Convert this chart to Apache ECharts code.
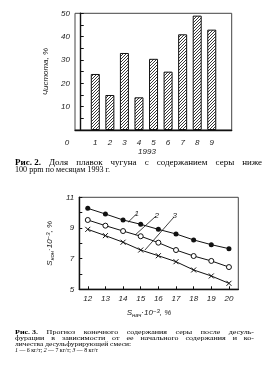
<!DOCTYPE html>
<html><head><meta charset="utf-8">
<script src="https://cdn.jsdelivr.net/npm/echarts@6/dist/echarts.min.js"></script>
<style>html,body{margin:0;padding:0;background:#fff}#c{width:273px;height:370px}</style>
</head><body><div id="c"></div>
<script>
// ---- Fig. 2 data ----
const months = [1, 2, 3, 4, 5, 6, 7, 8, 9];
const purity = [24, 15, 33, 14, 30.5, 25, 41, 49, 43];
const y1Ticks = [10, 20, 30, 40, 50];
// ---- Fig. 3 data ----
const sInit = [12, 13, 14, 15, 16, 17, 18, 19, 20];
const sFin1 = [10.28, 9.91, 9.52, 9.24, 8.91, 8.61, 8.22, 7.91, 7.65]; // 6 kg/t
const sFin2 = [9.52, 9.15, 8.80, 8.46, 8.04, 7.56, 7.17, 6.85, 6.45];  // 7 kg/t
const sFin3 = [8.91, 8.50, 8.07, 7.56, 7.19, 6.80, 6.26, 5.87, 5.39];  // 8 kg/t
const y2Labels = [5, 7, 9, 11];
const leader1 = [[14.28, 9.37], [14.73, 9.88]];
const leader2 = [[14.68, 8.54], [15.87, 9.78]];
const leader3 = [[15.24, 7.56], [16.89, 9.72]];

const cap2 = ['Рис. 2.', 'Доля плавок чугуна с содержанием серы ниже', '100 ppm по месяцам 1993 г.'];
const cap3 = ['Рис. 3.', 'Прогноз конечного содержания серы после десуль-',
  'фурации в зависимости от ее начального содержания и ко-',
  'личества десульфурирующей смеси:'];

const chart = echarts.init(document.getElementById('c'), null, {renderer: 'canvas'});

// hatch pattern
const pc = document.createElement('canvas');
pc.width = 3; pc.height = 3;
const p = pc.getContext('2d');
p.fillStyle = '#fff'; p.fillRect(0, 0, 3, 3);
p.strokeStyle = '#222'; p.lineWidth = 0.9;
p.beginPath();
p.moveTo(0, 3); p.lineTo(3, 0);
p.moveTo(-1, 1); p.lineTo(1, -1);
p.moveTo(2, 4); p.lineTo(4, 2);
p.stroke();

const mc = document.createElement('canvas').getContext('2d');
const SERIF = '"Liberation Serif", serif';
const SY = 0.8;
function fontStr(b, size) { return (b ? 'bold ' : '') + size + 'px ' + SERIF; }
function measure(t, b, size) { mc.font = fontStr(b, size); return mc.measureText(t).width; }
function justify(words, x0, x1, y, size) {
  const ws = words.map(o => measure(o.t, o.b, size));
  const tot = ws.reduce((a, b) => a + b, 0);
  const gap = (x1 - x0 - tot) / (words.length - 1);
  let x = x0;
  return words.map((o, i) => {
    const el = {type: 'text', x: x, y: y, scaleY: SY, silent: true,
      style: {text: o.t, font: fontStr(o.b, size), fill: '#000', textAlign: 'left', textVerticalAlign: 'middle'}};
    x += ws[i] + gap;
    return el;
  });
}
function fit(text, plainText, x0, x1, y, size, rich) {
  const w = measure(plainText, false, size);
  const st = {text: text, font: fontStr(false, size), fill: '#000', textAlign: 'left', textVerticalAlign: 'middle'};
  if (rich) st.rich = rich;
  return {type: 'text', x: x0, y: y, scaleY: SY, scaleX: (x1 - x0) / w, silent: true, style: st};
}
function wordsOf(s) { return s.split(' ').map(t => ({t: t, b: false})); }

const graphics = [];
// Fig 2 caption
graphics.push(...justify([{t: cap2[0], b: true}].concat(wordsOf(cap2[1])), 15, 262, 163.5, 9));
graphics.push(fit(cap2[2], cap2[2], 15, 110, 170.5, 9));
// Fig 3 caption
graphics.push(...justify([{t: cap3[0], b: true}].concat(wordsOf(cap3[1])), 15, 254, 332.3, 8));
graphics.push(...justify(wordsOf(cap3[2]), 15, 254, 338.5, 8));
graphics.push(fit(cap3[3], cap3[3], 15, 131, 344.5, 8));
const l4 = '1 — 6 кг/т; 2 — 7 кг/т; 3 — 8 кг/т';
graphics.push(fit('{i|1} — 6 кг/т; {i|2} — 7 кг/т; {i|3} — 8 кг/т', l4, 15, 98, 350.5, 8,
  {i: {fontStyle: 'italic', fontSize: 8, fontFamily: 'Liberation Serif'}}));
// axis extras
const LBL = {fontFamily: 'Liberation Sans', fontStyle: 'italic', fontSize: 8, color: '#222'};
graphics.push({type: 'text', x: 67, y: 143, silent: true,
  style: {text: '0', font: 'italic 8px "Liberation Sans"', fill: '#222', textAlign: 'center', textVerticalAlign: 'middle'}});
graphics.push({type: 'text', x: 147, y: 151.5, silent: true,
  style: {text: '1993', font: 'italic 8px "Liberation Sans"', fill: '#222', textAlign: 'center', textVerticalAlign: 'middle'}});
graphics.push({type: 'text', x: 149, y: 313, silent: true,
  style: {text: 'S{s|нач}·10{u|−3}, %', font: 'italic 8px "Liberation Sans"', fill: '#222', textAlign: 'center', textVerticalAlign: 'middle',
    rich: {s: {fontSize: 6, fontStyle: 'italic', fontFamily: 'Liberation Sans', verticalAlign: 'bottom', padding: [3, 0, 0, 0]},
           u: {fontSize: 6, fontStyle: 'italic', fontFamily: 'Liberation Sans', verticalAlign: 'top', padding: [0, 0, 4, 0]}}}});

const axisLineBold = {show: true, lineStyle: {color: '#111', width: 1.4}};

function leader(pts, txt) {
  return {
    silent: true, symbol: ['none', 'none'], animation: false,
    lineStyle: {color: '#111', width: 0.8, type: 'solid'},
    label: {show: true, position: 'end', formatter: txt, distance: 1, ...LBL},
    data: [[{coord: pts[0]}, {coord: pts[1]}]]
  };
}

const option = {
  animation: false,
  backgroundColor: '#fff',
  grid: [
    {left: 75, top: 13.3, width: 156.7, height: 116.7, show: true, borderColor: '#444', borderWidth: 1, backgroundColor: 'transparent'},
    {left: 79.3, top: 197.3, width: 159, height: 92, show: true, borderColor: '#444', borderWidth: 1, backgroundColor: 'transparent'}
  ],
  xAxis: [
    {type: 'value', gridIndex: 0, min: -0.395, max: 10.37, splitLine: {show: false},
      axisLine: axisLineBold, axisTick: {show: false},
      axisLabel: {show: true, customValues: months, margin: 9, ...LBL}},
    {type: 'value', gridIndex: 1, min: 11.52, max: 20.53, splitLine: {show: false},
      axisLine: axisLineBold,
      axisTick: {show: true, inside: true, length: 3, customValues: sInit, lineStyle: {color: '#111', width: 1}},
      axisLabel: {show: true, customValues: sInit, margin: 5, ...LBL}}
  ],
  yAxis: [
    {type: 'value', gridIndex: 0, min: 0, max: 50, interval: 5, splitLine: {show: false},
      axisLine: axisLineBold,
      axisTick: {show: true, inside: true, length: 3, lineStyle: {color: '#111', width: 1}},
      axisLabel: {show: true, margin: 5, ...LBL, formatter: v => (y1Ticks.indexOf(v) >= 0 ? String(v) : '')},
      name: 'Чистота, %', nameLocation: 'middle', nameGap: 17, nameRotate: 90,
      nameTextStyle: {...LBL}},
    {type: 'value', gridIndex: 1, min: 5, max: 11, interval: 1, splitLine: {show: false},
      axisLine: axisLineBold,
      axisTick: {show: true, inside: true, length: 3, lineStyle: {color: '#111', width: 1}},
      axisLabel: {show: true, margin: 5, ...LBL, formatter: v => (y2Labels.indexOf(v) >= 0 ? String(v) : '')},
      name: 'S{s|кон}·10{u|−3}, %', nameLocation: 'middle', nameGap: 21, nameRotate: 90,
      nameTextStyle: {...LBL, rich: {
        s: {fontSize: 6, fontStyle: 'italic', fontFamily: 'Liberation Sans', color: '#222', verticalAlign: 'bottom', padding: [3, 0, 0, 0]},
        u: {fontSize: 6, fontStyle: 'italic', fontFamily: 'Liberation Sans', color: '#222', verticalAlign: 'top', padding: [0, 0, 4, 0]}}}}
  ],
  series: [
    {type: 'bar', xAxisIndex: 0, yAxisIndex: 0, barWidth: 9,
      data: months.map((m, i) => [m, purity[i]]),
      itemStyle: {color: {image: pc, repeat: 'repeat'}, borderColor: '#111', borderWidth: 1}},
    {type: 'line', xAxisIndex: 1, yAxisIndex: 1, data: sInit.map((x, i) => [x, sFin1[i]]),
      symbol: 'circle', symbolSize: 5, lineStyle: {color: '#111', width: 1},
      itemStyle: {color: '#111', borderColor: '#111', borderWidth: 0},
      markLine: leader(leader1, '1')},
    {type: 'line', xAxisIndex: 1, yAxisIndex: 1, data: sInit.map((x, i) => [x, sFin2[i]]),
      symbol: 'circle', symbolSize: 5, lineStyle: {color: '#111', width: 1},
      itemStyle: {color: '#fff', borderColor: '#111', borderWidth: 1},
      markLine: leader(leader2, '2')},
    {type: 'line', xAxisIndex: 1, yAxisIndex: 1, data: sInit.map((x, i) => [x, sFin3[i]]),
      symbol: 'path://M0,0L10,10M10,0L0,10', symbolSize: 5, lineStyle: {color: '#111', width: 1},
      itemStyle: {color: '#111', borderColor: '#111', borderWidth: 1},
      markLine: leader(leader3, '3')}
  ],
  graphic: graphics
};
chart.setOption(option);
</script></body></html>
